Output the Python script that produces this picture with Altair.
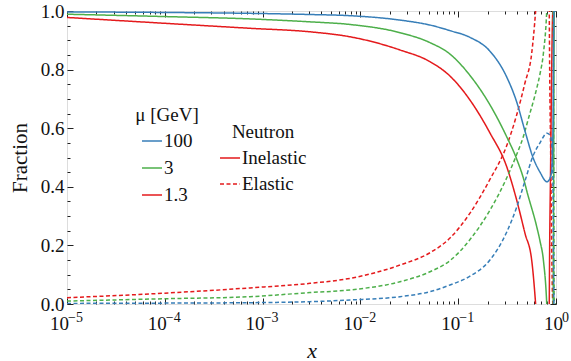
import altair as alt
import pandas as pd

# ---------------- data ----------------
X_COMMON = [1e-5, 1e-4, 7.43e-4, 3.05e-3, 7.83e-3, 0.0254, 0.0515, 0.0824,
            0.132, 0.211, 0.313, 0.396, 0.482]

# mu = 1.3 GeV (red)
RED_INEL = [0.978, 0.958, 0.941, 0.929, 0.912, 0.867, 0.827, 0.778,
            0.696, 0.584, 0.469, 0.355, 0.241]
RED_EL = [0.0215, 0.037, 0.055, 0.0705, 0.0875, 0.133, 0.175, 0.225,
          0.31, 0.425, 0.54, 0.645, 0.755]
RED_TAIL_X = [0.564, 0.619, 0.7, 0.8, 0.85, 0.853, 0.862, 0.877, 0.93, 1.0]
RED_TAIL_INEL = [0.15, 0.0, -0.3, -0.3, -0.05, 0.0, 0.21, 0.42, 1.0, 1.0]
RED_TAIL_EL = [0.855, 1.0, 1.3, 1.3, 1.05, 1.0, 0.79, 0.58, 0.0, 0.0]

# mu = 3 GeV (green)
GREEN_INEL = [0.989, 0.981, 0.973, 0.963, 0.954, 0.926, 0.892, 0.853,
              0.78, 0.68, 0.571, 0.495, 0.41]
GREEN_EL = [0.010, 0.018, 0.025, 0.039, 0.048, 0.076, 0.11, 0.148,
            0.22, 0.32, 0.43, 0.51, 0.59]
GREEN_TAIL_X = [0.5, 0.635, 0.686, 0.743, 0.804, 0.86, 0.92, 0.935, 0.96, 1.0]
GREEN_TAIL_INEL = [0.389, 0.264, 0.215, 0.15, 0.0, -0.3, -0.05, 0.0, 1.0, 1.0]
GREEN_TAIL_EL = [0.61, 0.736, 0.785, 0.855, 1.0, 1.3, 1.05, 1.0, 0.0, 0.0]

# mu = 100 GeV (blue)
BLUE_INEL = [0.997, 0.995, 0.992, 0.988, 0.984, 0.969, 0.952, 0.933,
             0.91, 0.863, 0.775, 0.69, 0.59]
BLUE_EL = [0.002, 0.003, 0.0045, 0.008, 0.0137, 0.025, 0.042, 0.065,
           0.095, 0.15, 0.245, 0.33, 0.42]
BLUE_TAIL_X = [0.582, 0.686, 0.809, 0.87, 0.904, 0.931, 0.954, 1.0]
BLUE_TAIL_INEL = [0.5, 0.45, 0.417, 0.43, 0.457, 0.6, 1.0, 1.0]
BLUE_TAIL_EL = [0.505, 0.55, 0.583, 0.575, 0.55, 0.4, 0.0, 0.0]

MU_LABELS = ["100", "3", "1.3"]
MU_COLORS = ["#377eb8", "#4daf4a", "#e41a1c"]
TYPES = ["Inelastic", "Elastic"]

X_MAJOR = [1e-5, 1e-4, 1e-3, 1e-2, 1e-1, 1.0]
X_EXPONENTS = ["\u22125", "\u22124", "\u22123", "\u22122", "\u22121", "0"]
X_MINOR = [m * 10.0 ** k for k in range(-5, 0) for m in range(2, 10)]
Y_MAJOR = [0.0, 0.2, 0.4, 0.6, 0.8, 1.0]
Y_MINOR = [0.05, 0.1, 0.15, 0.25, 0.3, 0.35, 0.45, 0.5, 0.55, 0.65, 0.7,
           0.75, 0.85, 0.9, 0.95]

# ---------------- table ----------------
rows = []
def add(mu, kind, xs, ys):
    for i, (a, b) in enumerate(zip(xs, ys)):
        rows.append({"x": a, "y": b, "mu": mu, "type": kind, "i": i})

add("1.3", "Inelastic", X_COMMON + RED_TAIL_X, RED_INEL + RED_TAIL_INEL)
add("1.3", "Elastic", X_COMMON + RED_TAIL_X, RED_EL + RED_TAIL_EL)
add("3", "Inelastic", X_COMMON + GREEN_TAIL_X, GREEN_INEL + GREEN_TAIL_INEL)
add("3", "Elastic", X_COMMON + GREEN_TAIL_X, GREEN_EL + GREEN_TAIL_EL)
add("100", "Inelastic", X_COMMON + BLUE_TAIL_X, BLUE_INEL + BLUE_TAIL_INEL)
add("100", "Elastic", X_COMMON + BLUE_TAIL_X, BLUE_EL + BLUE_TAIL_EL)
df = pd.DataFrame(rows)

W, H = 489, 293
FONT = "Liberation Serif"
TXT = "#111"
xscale = alt.Scale(type="log", domain=[1e-5, 1], nice=False)
yscale = alt.Scale(domain=[0, 1], nice=False, zero=False)

exp_list = "[" + ",".join("'%s'" % e for e in X_EXPONENTS) + "]"
exp_expr = exp_list + "[round(log(datum.value)/LN10)+5]"

legend_common = dict(orient="none", symbolType="stroke", symbolSize=400,
                     symbolStrokeWidth=1.5, labelFontSize=19, titleFontSize=19,
                     labelFont=FONT, titleFont=FONT, titleFontWeight="normal",
                     titleAnchor="middle", labelOffset=1, padding=0,
                     labelColor=TXT, titleColor=TXT)

lines = alt.Chart(df).mark_line(clip=True, strokeWidth=1.5, interpolate="monotone").encode(
    x=alt.X("x:Q", scale=xscale,
            axis=alt.Axis(orient="bottom", values=X_MAJOR, labelExpr="'10'",
                          labelFlush=False,
                          labelOffset={"condition": {"test": "datum.value > 0.5", "value": -3},
                                       "value": -8},
                          ticks=False, domain=False, grid=False,
                          labelPadding=10, labelFontSize=19, labelFont=FONT,
                          labelColor=TXT, title="x", titleFont=FONT,
                          titleFontStyle="italic", titleFontWeight="normal",
                          titleFontSize=22, titleColor=TXT, titlePadding=7)),
    y=alt.Y("y:Q", scale=yscale,
            axis=alt.Axis(orient="left", values=Y_MAJOR, format=".1f",
                          ticks=False, domain=False, grid=False, labelFlush=False,
                          labelPadding=3, labelFontSize=19, labelFont=FONT,
                          labelColor=TXT, title="Fraction", titleFont=FONT,
                          titleFontWeight="normal", titleFontSize=21,
                          titleColor=TXT, titlePadding=10)),
    color=alt.Color("mu:N", scale=alt.Scale(domain=MU_LABELS, range=MU_COLORS),
                    sort=MU_LABELS,
                    legend=alt.Legend(title="\u03bc [GeV]", legendX=68, legendY=95,
                                      rowPadding=6, **legend_common)),
    strokeDash=alt.StrokeDash("type:N", sort=TYPES,
                              scale=alt.Scale(domain=TYPES, range=[[1, 0], [4, 2.5]]),
                              legend=alt.Legend(title="Neutron", legendX=152, legendY=112,
                                                symbolStrokeColor="#e41a1c",
                                                rowPadding=5, **legend_common)),
    order="i:Q",
)

# exponent labels of the x axis (superscripts)
exp_layer = alt.Chart(df).mark_point(opacity=0).encode(
    x=alt.X("x:Q", scale=xscale,
            axis=alt.Axis(orient="bottom", values=X_MAJOR, labelExpr=exp_expr,
                          labelFlush=False,
                          labelOffset={"condition": {"test": "datum.value > 0.5", "value": 9},
                                       "value": 8},
                          ticks=False, domain=False, grid=False, labelPadding=6,
                          labelFontSize=14, labelFont=FONT, labelColor=TXT,
                          title=None))
)


def tick_layer(channel, orient, offset, values, size):
    ax = alt.Axis(orient=orient, offset=offset, values=values, labels=False,
                  domain=False, grid=False, ticks=True, tickSize=size,
                  tickColor="#222", tickWidth=1, title=None)
    base = alt.Chart(df).mark_point(opacity=0)
    if channel == "x":
        return base.encode(x=alt.X("x:Q", scale=xscale, axis=ax))
    return base.encode(y=alt.Y("y:Q", scale=yscale, axis=ax))


layers = [lines, exp_layer]
for vals, sz in [(X_MAJOR, 6), (X_MINOR, 3)]:
    layers.append(tick_layer("x", "top", -H, vals, sz))     # bottom edge, inward
    layers.append(tick_layer("x", "bottom", -H, vals, sz))  # top edge, inward
for vals, sz in [(Y_MAJOR, 6), (Y_MINOR, 3)]:
    layers.append(tick_layer("y", "right", -W, vals, sz))   # left edge, inward
    layers.append(tick_layer("y", "left", -W, vals, sz))    # right edge, inward

chart = alt.layer(*layers).resolve_axis(x="independent", y="independent").properties(
    width=W, height=H, autosize="none",
    padding={"left": 67, "top": 11, "right": 571 - 67 - W, "bottom": 361 - 11 - H},
).configure_view(stroke="#222", strokeWidth=1.5).configure(
    background="white", font=FONT
).configure_axis(labelFont=FONT, titleFont=FONT).configure_legend(
    labelFont=FONT, titleFont=FONT)

chart.save("out.html", embed_options={"renderer": "svg", "actions": False})
